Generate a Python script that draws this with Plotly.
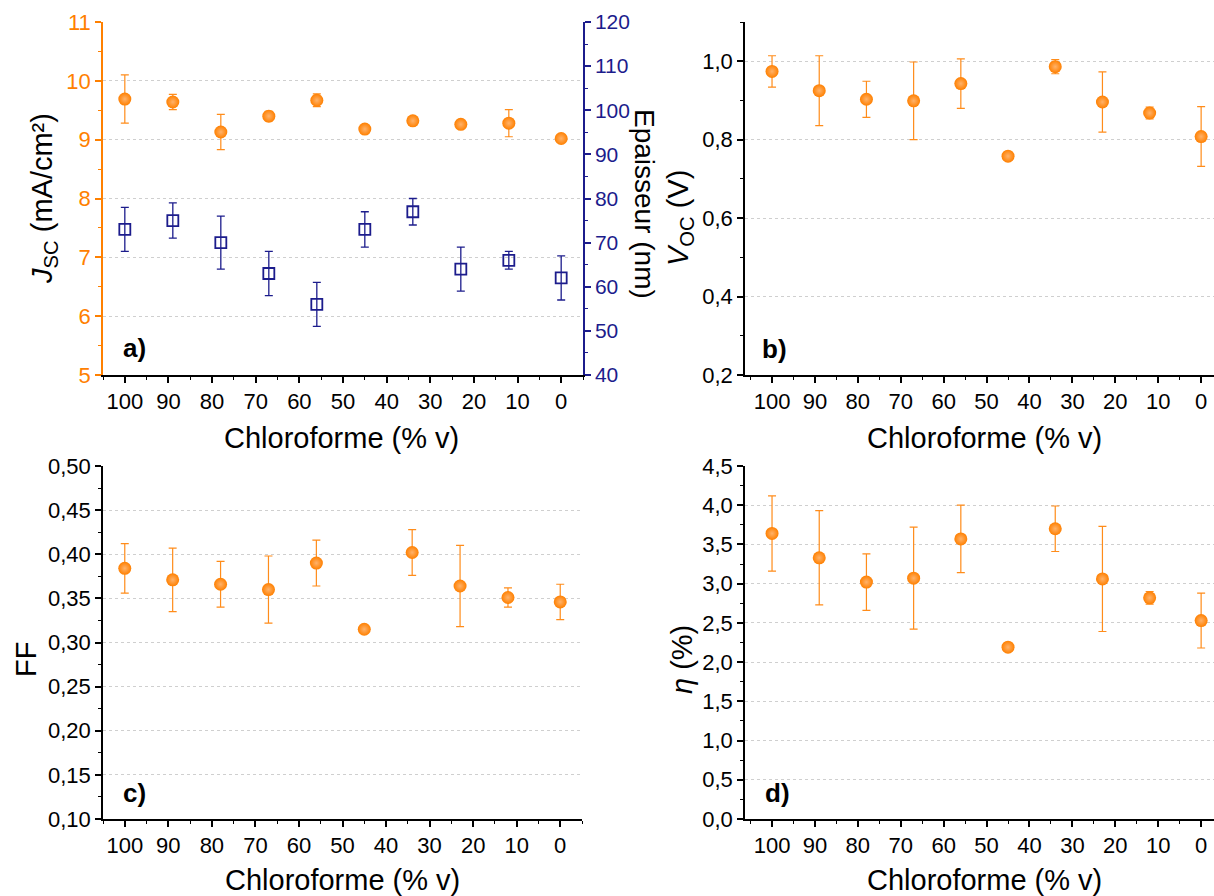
import plotly.graph_objects as go

# ---- data ----
chloroforme = [100, 89, 78, 67, 56, 45, 34, 23, 12, 0]

jsc = [9.69, 9.64, 9.13, 9.40, 9.67, 9.18, 9.32, 9.26, 9.28, 9.02]
jsc_err = [0.41, 0.13, 0.30, 0.08, 0.11, 0.0, 0.0, 0.0, 0.23, 0.0]

epaisseur = [73, 75, 70, 63, 56, 73, 77, 64, 66, 62]
epaisseur_err = [5, 4, 6, 5, 5, 4, 3, 5, 2, 5]

voc = [0.974, 0.925, 0.903, 0.899, 0.943, 0.758, 0.986, 0.896, 0.868, 0.808]
voc_err = [0.040, 0.089, 0.046, 0.099, 0.063, 0.0, 0.018, 0.077, 0.015, 0.076]

ff = [0.384, 0.371, 0.366, 0.360, 0.390, 0.315, 0.402, 0.364, 0.351, 0.346]
ff_err = [0.028, 0.036, 0.026, 0.038, 0.026, 0.0, 0.026, 0.046, 0.011, 0.020]

eta = [3.64, 3.33, 3.02, 3.07, 3.57, 2.19, 3.70, 3.06, 2.82, 2.53]
eta_err = [0.48, 0.60, 0.36, 0.65, 0.43, 0.0, 0.29, 0.67, 0.08, 0.35]

# ---- style ----
W, H = 1214, 896
ORANGE = "#FF8000"
NAVY = "#1C1C8C"
FONT = "Liberation Sans, Arial, sans-serif"
TICKFONT = 22
TITLEFONT = 29


def px(xp):
    return xp / W


def py(yp):
    return 1 - yp / H


fig = go.Figure()


def orange_trace(y, err, xa, ya):
    fig.add_trace(go.Scatter(
        x=chloroforme, y=y, mode="markers", xaxis=xa, yaxis=ya,
        marker=dict(size=13, color=ORANGE, line=dict(width=0),
                    gradient=dict(type="radial", color="#FFB26A")),
        error_y=dict(type="data", array=err, visible=True, color="#FF8C1A",
                     thickness=1.2, width=4),
        showlegend=False))


orange_trace(jsc, jsc_err, "x", "y")
fig.add_trace(go.Scatter(
    x=chloroforme, y=epaisseur, mode="markers", xaxis="x", yaxis="y2",
    marker=dict(size=11, symbol="square-open", color=NAVY, line=dict(width=1.8, color=NAVY)),
    error_y=dict(type="data", array=epaisseur_err, visible=True, color=NAVY,
                 thickness=1.3, width=4),
    showlegend=False))
orange_trace(voc, voc_err, "x2", "y3")
orange_trace(ff, ff_err, "x3", "y4")
orange_trace(eta, eta_err, "x4", "y5")

# panel geometry (pixels)
panels = {
    "a": dict(x0=103, x1=583, y0=22, y1=375, xr=[105, -5]),
    "b": dict(x0=745, x1=1214, y0=22, y1=375, xr=[106.3, -3]),
    "c": dict(x0=103, x1=582, y0=466, y1=819, xr=[105, -5]),
    "d": dict(x0=745, x1=1214, y0=466, y1=819, xr=[106.3, -3]),
}

tickf = dict(family=FONT, size=TICKFONT, color="black")
layout = dict(
    width=W, height=H, margin=dict(l=0, r=0, t=0, b=0, autoexpand=False),
    paper_bgcolor="white", plot_bgcolor="white",
    separators=", ", font=dict(family=FONT, color="black"),
)


def xbottom(p, yname):
    g = panels[p]
    return dict(domain=[px(g["x0"]), px(g["x1"])], anchor=yname, range=g["xr"],
                automargin=False,
                tickmode="linear", tick0=0, dtick=10, ticks="outside", ticklen=6,
                tickwidth=1.5, tickcolor="black", showline=True, linecolor="black",
                linewidth=1.5, showgrid=False, zeroline=False, tickfont=tickf,
                minor=dict(ticks="outside", dtick=5, ticklen=3, tickwidth=1.2,
                           tickcolor="black", showgrid=False))


def xtop(p, xname, yname):
    g = panels[p]
    return dict(domain=[px(g["x0"]), px(g["x1"])], anchor=yname, overlaying=xname,
                automargin=False,
                side="top", range=g["xr"], tickmode="linear", tick0=0, dtick=10,
                ticks="inside", ticklen=6, tickwidth=1.5, tickcolor="black",
                showline=True, linecolor="black", linewidth=1.5, showgrid=False,
                zeroline=False, showticklabels=False,
                minor=dict(ticks="inside", dtick=5, ticklen=3, tickwidth=1.2,
                           tickcolor="black", showgrid=False))


def yleft(p, xname, rng, dtick, minor, fmt, color="black", grid=True, tick0=None):
    g = panels[p]
    d = dict(domain=[py(g["y1"]), py(g["y0"])], anchor=xname, range=rng,
             automargin=False,
             tickmode="linear", dtick=dtick, tick0=rng[0] if tick0 is None else tick0,
             ticks="outside", ticklen=6, tickwidth=1.5, tickcolor=color,
             showline=True, linecolor=color, linewidth=1.5,
             showgrid=grid, gridcolor="#cfcfcf", griddash="dot", gridwidth=1,
             zeroline=False, tickformat=fmt,
             tickfont=dict(family=FONT, size=TICKFONT, color=color),
             minor=dict(ticks="outside", dtick=minor, ticklen=3, tickwidth=1.2,
                        tickcolor=color, showgrid=False))
    return d


# panel a
layout["xaxis"] = xbottom("a", "y")
layout["xaxis5"] = xtop("a", "x", "y")
layout["yaxis"] = yleft("a", "x", [5, 11], 1, 0.5, "d", color=ORANGE)
layout["yaxis2"] = dict(domain=[py(375), py(22)], anchor="x", overlaying="y", side="right",
                        automargin=False,
                        range=[40, 120], tickmode="linear", tick0=40, dtick=10,
                        ticks="outside", ticklen=6, tickwidth=1.5, tickcolor=NAVY,
                        showline=True, linecolor=NAVY, linewidth=1.5, showgrid=False,
                        zeroline=False,
                        tickfont=dict(family=FONT, size=21, color=NAVY),
                        minor=dict(ticks="outside", dtick=5, ticklen=3, tickwidth=1.2,
                                   tickcolor=NAVY, showgrid=False))
# panel b
layout["xaxis2"] = xbottom("b", "y3")
layout["xaxis6"] = xtop("b", "x2", "y3")
layout["yaxis3"] = yleft("b", "x2", [0.2, 1.1], 0.2, 0.1, ".1f", tick0=0.2)
# panel c
layout["xaxis3"] = xbottom("c", "y4")
layout["xaxis7"] = xtop("c", "x3", "y4")
layout["yaxis4"] = yleft("c", "x3", [0.10, 0.50], 0.05, 0.025, ".2f")
layout["yaxis6"] = dict(domain=[py(819), py(466)], anchor="x3", overlaying="y4", side="right",
                        automargin=False,
                        range=[0.10, 0.50], tickmode="linear", tick0=0.10, dtick=0.05,
                        ticks="inside", ticklen=6, tickwidth=1.5, tickcolor="black",
                        showline=True, linecolor="black", linewidth=1.5, showgrid=False,
                        zeroline=False, showticklabels=False,
                        minor=dict(ticks="inside", dtick=0.025, ticklen=3, tickwidth=1.2,
                                   tickcolor="black", showgrid=False))
# panel d
layout["xaxis4"] = xbottom("d", "y5")
layout["xaxis8"] = xtop("d", "x4", "y5")
layout["yaxis5"] = yleft("d", "x4", [0, 4.5], 0.5, 0.25, ".1f", tick0=0)

ann = []


def title(text, xp, yp, angle=0, color="black", size=TITLEFONT, bold=False):
    ann.append(dict(text=("<b>%s</b>" % text) if bold else text, x=px(xp), y=py(yp),
                    xref="paper", yref="paper", showarrow=False, textangle=angle,
                    xanchor="center", yanchor="middle",
                    font=dict(family=FONT, size=size, color=color)))


for cx, cy in [(341, 438), (984, 438), (342, 880), (984, 880)]:
    title("Chloroforme (% v)", cx, cy)

title("<i>J</i><sub>SC</sub> (mA/cm²)", 44, 199, angle=-90)
title("Epaisseur (nm)", 644, 204, angle=90, size=28)
title("<i>V</i><sub>OC</sub> (V)", 680, 218, angle=-90)
title("FF", 26, 660, angle=-90)
title("<i>η</i> (%)", 682, 660, angle=-90)

for lab, cx, cy in [("a)", 134, 348), ("b)", 774, 349), ("c)", 134, 793), ("d)", 777, 793)]:
    title(lab, cx, cy, size=26, bold=True)

layout["annotations"] = ann
fig.update_layout(**layout)
fig.write_html(
    "out.html",
    config={"displayModeBar": False},
    post_script="document.body.style.margin='0';document.body.style.overflow='hidden';"
                "document.documentElement.style.overflow='hidden';",
)
